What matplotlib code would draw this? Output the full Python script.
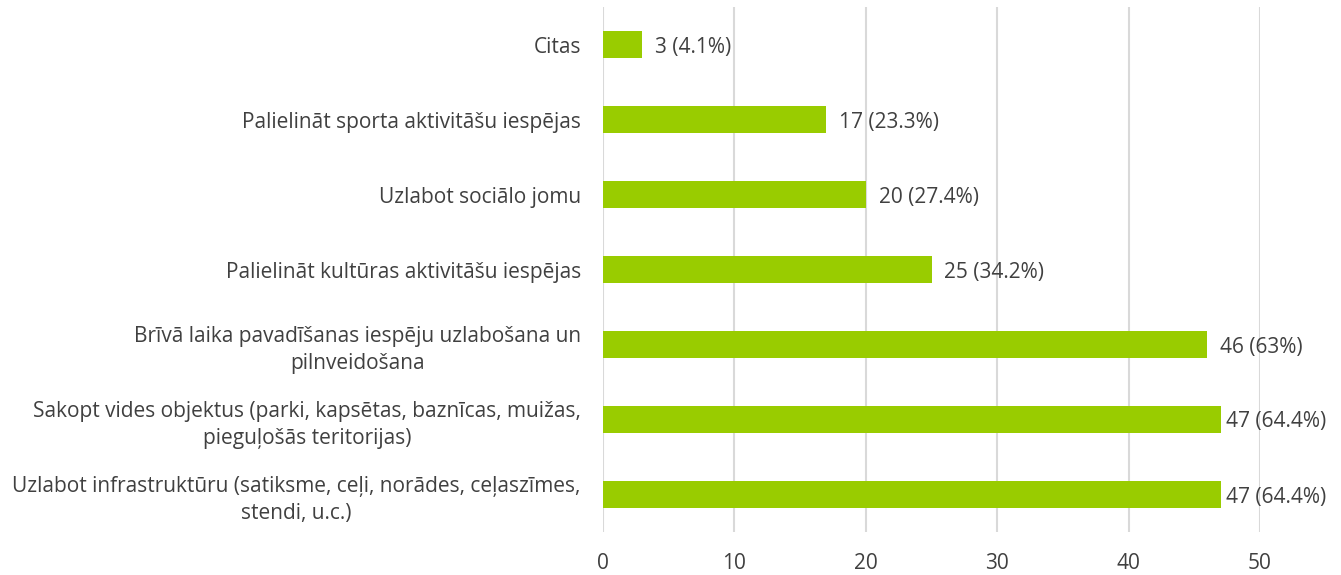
import matplotlib
matplotlib.use("Agg")
import matplotlib.pyplot as plt

categories = [
    "Uzlabot infrastruktūru (satiksme, ceļi, norādes, ceļaszīmes,\nstendi, u.c.)",
    "Sakopt vides objektus (parki, kapsētas, baznīcas, muižas,\npieguļošās teritorijas)",
    "Brīvā laika pavadīšanas iespēju uzlabošana un\npilnveidošana",
    "Palielināt kultūras aktivitāšu iespējas",
    "Uzlabot sociālo jomu",
    "Palielināt sporta aktivitāšu iespējas",
    "Citas",
]
values = [47, 47, 46, 25, 20, 17, 3]
labels = ["47 (64.4%)", "47 (64.4%)", "46 (63%)", "25 (34.2%)", "20 (27.4%)", "17 (23.3%)", "3 (4.1%)"]
ticks = [0, 10, 20, 30, 40, 50]

W, H = 1341, 575
fig = plt.figure(figsize=(W / 100, H / 100), dpi=100)
ax = fig.add_axes([603 / W, (H - 532) / H, (1260 - 603) / W, (532 - 7) / H])

text_color = "#404040"
font = "Open Sans"
fs = 15

y = list(range(len(categories)))
ax.barh(y, values, height=0.36, color="#99CC00", zorder=3)
ax.set_xlim(0, 50)
ax.set_ylim(-0.5, len(categories) - 0.5)
ax.set_xticks(ticks)
ax.set_xticklabels([str(t) for t in ticks], fontsize=fs, color=text_color, family=font)
ax.set_yticks(y)
ax.set_yticklabels(categories, fontsize=fs, color=text_color, family=font,
                   multialignment="center", linespacing=1.35)
ax.tick_params(axis="both", length=0)
ax.tick_params(axis="x", pad=15)
ax.tick_params(axis="y", pad=16)
for s in ax.spines.values():
    s.set_visible(False)
ax.grid(axis="x", color="#D9D9D9", linewidth=1.5, zorder=0)

fig.canvas.draw()
renderer = fig.canvas.get_renderer()
for yi, v, lab in zip(y, values, labels):
    t = ax.annotate(lab, xy=(v, yi), xytext=(0, 0), textcoords="offset pixels",
                    va="center_baseline", ha="left", fontsize=fs, color=text_color, family=font)
    bb = t.get_window_extent(renderer)
    bar_end = ax.transData.transform((v, yi))[0]
    off = min(13, (W - 15) - bb.width - bar_end)
    off = max(off, 0)
    t.set_position((off, 0))

fig.savefig("out.png", dpi=100)
